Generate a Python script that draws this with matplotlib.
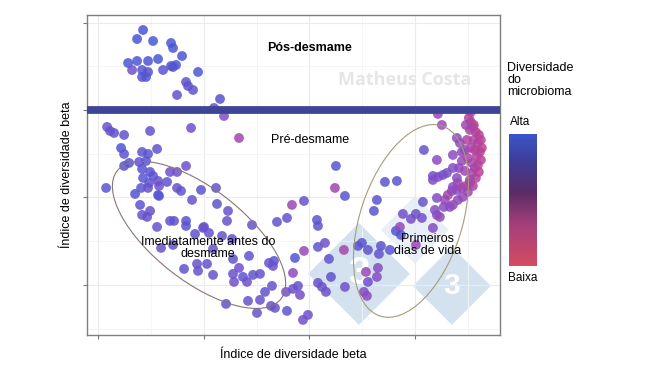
import numpy as np
import matplotlib
matplotlib.use("Agg")
import matplotlib.pyplot as plt
from matplotlib.colors import LinearSegmentedColormap
from matplotlib.patches import Ellipse, RegularPolygon
from matplotlib.ticker import MultipleLocator

plt.rcParams['font.family'] = ['Liberation Sans', 'DejaVu Sans']

# beta diversity scores (axis 1 / axis 2) and microbiome diversity (0 = low, 1 = high)
beta_x = [
    45, 39, 55, 73, 75, 84, 30, 39, 50, 60, 34, 44, 50, 44, 48, 65, 73, 78, 75, 100,
    88, 90, 95, 79, 122, 116, 126,
    9, 12, 16, 26, 52, 93, 141, 23, 26, 44, 50, 59, 26, 31, 41, 48, 44, 52, 55, 45,
    72, 79, 88, 8, 37, 43, 51, 50, 60, 61, 69, 60, 61, 79, 83, 103, 118, 94, 42, 52,
    44, 49, 72, 76, 88, 88, 59, 106, 119, 130, 129, 154, 179, 189, 194, 206, 247, 238,
    237, 63, 105, 97, 111, 124, 134, 115, 75, 86, 99, 100, 109, 115, 135, 141, 135, 136,
    145, 149, 155, 162, 151, 171, 176, 175, 174, 167, 162, 150, 128, 159, 173, 177, 189,
    188, 195, 197, 206, 205, 210, 195, 200, 202, 220, 224, 228, 247, 266, 269, 270,
    219, 220, 220, 227, 231, 246, 260, 264, 270, 283, 281, 292, 268, 280, 279, 233,
    287, 299, 279, 276, 305, 313, 318, 324, 298, 302, 303, 318, 335,
    326, 339, 335, 335, 340, 345, 349, 339, 325, 337, 339, 342, 346, 352, 355, 355, 359,
    354, 355, 361, 359, 360, 355, 364, 344, 340, 359, 362, 367, 364, 372, 364, 368, 347, 350,
    371, 373, 375, 378, 381, 383, 380, 384, 382, 379, 383, 380, 377, 381, 374, 378, 372,
    375, 376, 372, 376, 373, 377, 370, 374, 369, 368, 373, 367, 370, 365, 360,
]
beta_y = [
    255, 246, 244, 242, 237, 229, 222, 224, 224, 226, 215, 215, 213, 208, 208, 215, 219, 220, 218, 213,
    203, 199, 195, 190, 186, 177, 169,
    158, 154, 152, 150, 154, 157, 147, 137, 131, 133, 131, 136, 119, 122, 123, 124, 116, 113, 109, 107,
    113, 113, 119, 97, 91, 97, 102, 97, 104, 99, 103, 90, 89, 97, 94, 95, 97, 85, 80, 74,
    70, 68, 64, 64, 64, 59, 58, 58, 81, 74, 64, 60, 63, 67, 80, 84, 89, 119,
    97, 37, 57, 51, 52, 49, 46, 36, 40, 16, 21, 14, 21, 10, 26, 17, 11, 3,
    8, 3, 10, 11, 29, 22, 24, 19, -1, -7, -15, -16, -19, -28, -21, -23, -26,
    -7, 12, 27, 34, -35, -30, -4, -1, -10, 2, -2, -7, -2, -7, -11, 3,
    65, 59, 38, 42, 26, 35, 39, 42, 35, 39, 31, 35, 13, 17, 8, 8,
    103, 104, 85, 74, 71, 66, 71, 67, 54, 58, 50, 40, 57,
    135, 125, 109, 105, 108, 110, 112, 87, 83, 75, 70, 68, 78, 78, 80, 98, 95,
    94, 117, 117, 107, 102, 130, 124, 160, 171, 147, 142, 135, 133, 102, 97, 99, 85, 90,
    167, 163, 158, 153, 150, 145, 142, 137, 133, 129, 125, 120, 117, 113, 112, 107, 105,
    99, 160, 155, 145, 137, 135, 127, 122, 145, 160, 173, 114, 93, 88, 85,
]
diversity = [
    0.97, 0.97, 0.95, 0.95, 0.95, 0.95, 0.93, 0.95, 0.95, 0.95, 0.70, 0.90, 0.88, 0.90, 0.90, 0.85, 0.92, 0.92, 0.90, 0.92,
    0.80, 0.80, 0.80, 0.80, 0.88, 0.70, 0.55,
    0.75, 0.75, 0.80, 0.78, 0.80, 0.70, 0.35, 0.95, 0.85, 0.80, 0.85, 0.80, 0.85, 0.85, 0.80, 0.85, 0.85, 0.85, 0.85, 0.85,
    0.70, 0.70, 0.70, 0.85, 0.88, 0.85, 0.80, 0.75, 0.75, 0.70, 0.80, 0.85, 0.85, 0.75, 0.80, 0.85, 0.80, 0.75, 0.80, 0.75,
    0.75, 0.75, 0.80, 0.80, 0.85, 0.85, 0.75, 0.85, 0.80, 0.75, 0.75, 0.75, 0.80, 0.78, 0.40, 0.75, 0.85, 0.85,
    0.35, 0.75, 0.70, 0.80, 0.75, 0.75, 0.80, 0.75, 0.80, 0.80, 0.75, 0.75, 0.80, 0.75, 0.80, 0.70, 0.75, 0.70,
    0.80, 0.70, 0.80, 0.75, 0.80, 0.75, 0.85, 0.75, 0.75, 0.80, 0.75, 0.75, 0.85, 0.75, 0.75, 0.75, 0.80,
    0.70, 0.45, 0.92, 0.40, 0.70, 0.70, 0.75, 0.75, 0.65, 0.75, 0.75, 0.70, 0.70, 0.55, 0.50, 0.70,
    0.80, 0.80, 0.80, 0.70, 0.80, 0.30, 0.85, 0.85, 0.80, 0.85, 0.80, 0.85, 0.40, 0.55, 0.55, 0.80,
    0.85, 0.85, 0.85, 0.85, 0.70, 0.65, 0.70, 0.65, 0.90, 0.40, 0.92, 0.40, 0.55,
    0.75, 0.45, 0.65, 0.60, 0.55, 0.65, 0.60, 0.55, 0.75, 0.55, 0.50, 0.45, 0.55, 0.50, 0.45, 0.50, 0.50,
    0.45, 0.55, 0.50, 0.50, 0.40, 0.50, 0.40, 0.40, 0.40, 0.50, 0.45, 0.40, 0.45, 0.30, 0.35, 0.30, 0.40, 0.35,
    0.25, 0.20, 0.22, 0.18, 0.20, 0.15, 0.22, 0.15, 0.18, 0.22, 0.15, 0.20, 0.25, 0.18, 0.30, 0.22, 0.30,
    0.25, 0.20, 0.28, 0.25, 0.30, 0.20, 0.28, 0.30, 0.25, 0.35, 0.30, 0.35, 0.35, 0.40, 0.45,
]

point_cmap = LinearSegmentedColormap.from_list(
    "pts", [(0, '#d33c80'), (0.5, '#8a4cc2'), (1, '#4557d6')])
bar_cmap = LinearSegmentedColormap.from_list(
    "bar", [(0, '#d34c62'), (0.3, '#a8407c'), (0.55, '#5b2c66'), (0.8, '#3d3f9a'), (1, '#3a56cc')])

fig = plt.figure(figsize=(6.5, 3.66), dpi=100)
ax = fig.add_axes([0.134, 0.085, 0.635, 0.874])

ax.scatter(beta_x, beta_y, c=diversity, cmap=point_cmap, vmin=0, vmax=1,
           s=50, alpha=0.85, linewidths=0, zorder=3)

ax.set_xlim(-11, 402)
ax.set_ylim(-50, 270)
ax.xaxis.set_major_locator(MultipleLocator(105.7))
ax.xaxis.set_minor_locator(MultipleLocator(105.7 / 2))
ax.yaxis.set_major_locator(MultipleLocator(87.5))
ax.yaxis.set_minor_locator(MultipleLocator(87.5 / 2))
ax.grid(which='major', color='#ebebeb', lw=0.8, zorder=0)
ax.grid(which='minor', color='#f4f4f4', lw=0.6, zorder=0)
ax.tick_params(which='major', length=3, color='#777777', labelbottom=False, labelleft=False)
ax.tick_params(which='minor', length=0)
for sp in ax.spines.values():
    sp.set_color('#7f7f7f')
    sp.set_linewidth(1.0)

# logo watermark
ax.add_patch(RegularPolygon((317, 55), 4, radius=34, orientation=0,
                            color='#c6d9ec', alpha=0.4, lw=0, zorder=1))
for cx, cy, r in [(261, 11, 51), (354, -1, 39)]:
    ax.add_patch(RegularPolygon((cx, cy), 4, radius=r, orientation=0,
                                color='#c6d9ec', alpha=0.75, lw=0, zorder=1))
    ax.text(cx, cy, "3", fontsize=r * 0.55, fontweight='bold', color='white',
            ha='center', va='center', zorder=1)

ax.axhline(175, color='#3e4597', lw=5.6, zorder=4)

ax.add_patch(Ellipse((101, 50), 208, 92, angle=-38, fill=False,
                     ec='#8c7474', lw=0.8, zorder=4))
ax.add_patch(Ellipse((313, 64), 200, 102, angle=72, fill=False,
                     ec='#a39d78', lw=0.8, zorder=4))

ax.text(307, 205, "Matheus Costa", fontsize=13, fontweight='bold', color='#e6e6e6',
        family='Open Sans', ha='center', va='center', zorder=2)
ax.text(212, 237, "Pós-desmame", fontsize=9, fontweight='bold', ha='center', va='center', zorder=5)
ax.text(212, 145, "Pré-desmame", fontsize=9, ha='center', va='center', zorder=5)
ax.text(110, 37, "Imediatamente antes do\ndesmame", fontsize=9, ha='center', va='center',
        linespacing=1.0, zorder=5)
ax.text(330, 40, "Primeiros\ndias de vida", fontsize=9, ha='center', va='center',
        linespacing=1.0, zorder=5)

ax.set_xlabel("Índice de diversidade beta", fontsize=9, labelpad=7)
ax.set_ylabel("Índice de diversidade beta", fontsize=9, labelpad=7)

# colour scale
cax = fig.add_axes([0.783, 0.273, 0.043, 0.361])
cax.imshow(np.linspace(1, 0, 200).reshape(-1, 1), cmap=bar_cmap, aspect='auto',
           extent=[0, 1, 0, 1])
cax.set_xticks([])
cax.set_yticks([])
for sp in cax.spines.values():
    sp.set_visible(False)

fig.text(0.780, 0.83, "Diversidade\ndo\nmicrobioma", fontsize=9, va='top', ha='left', linespacing=1.0)
fig.text(0.785, 0.667, "Alta", fontsize=8.5, va='center', ha='left')
fig.text(0.782, 0.24, "Baixa", fontsize=8.5, va='center', ha='left')

fig.savefig("out.png", dpi=100)
